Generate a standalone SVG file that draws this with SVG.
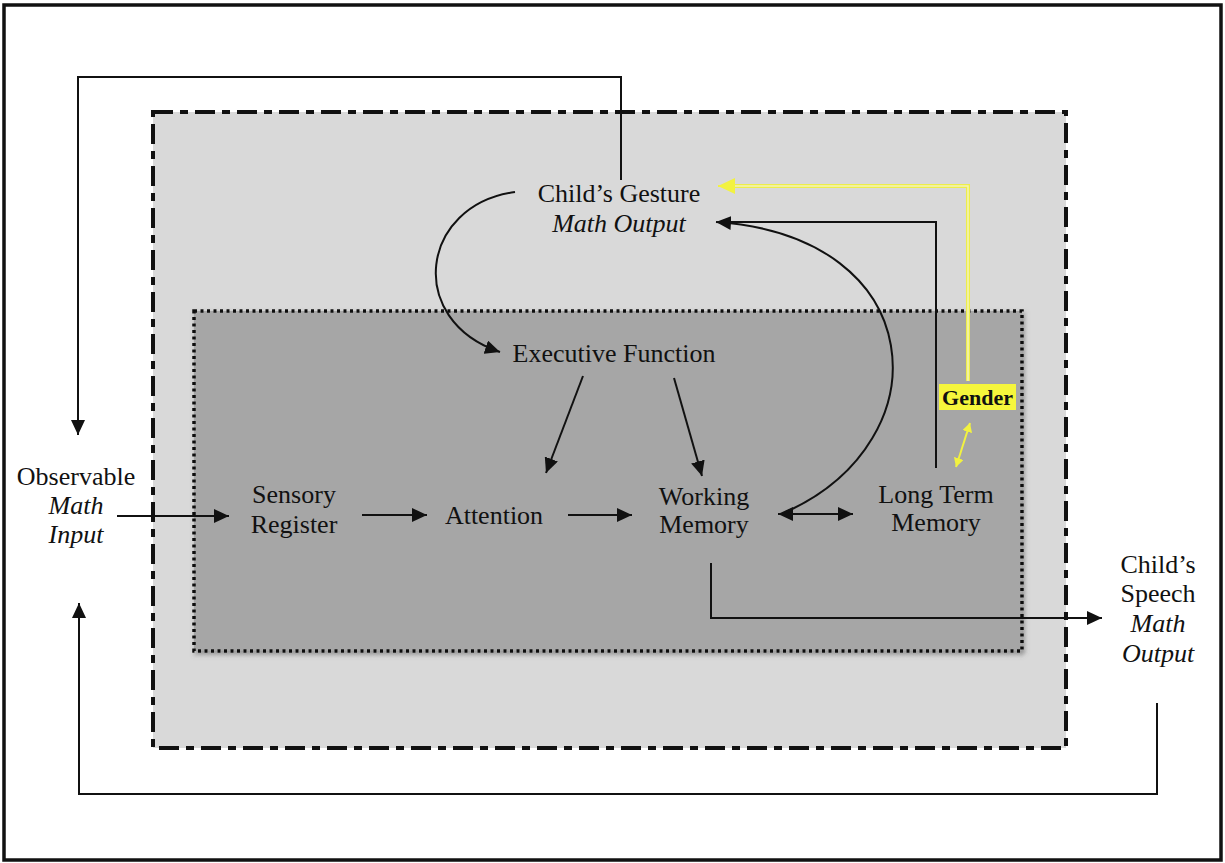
<svg xmlns="http://www.w3.org/2000/svg" width="1225" height="863" viewBox="0 0 1225 863">
  <style>
    .lbl { font-family: "Liberation Serif", "Times New Roman", serif; font-size: 26px; fill: #111; text-anchor: middle; }
    .it { font-style: italic; }
    .ln { fill: none; stroke: #111; stroke-width: 2; }
    .arr { marker-end: url(#ah); }
  </style>
  <defs>
    <marker id="ah" markerUnits="userSpaceOnUse" markerWidth="16" markerHeight="14" refX="15" refY="7" orient="auto-start-reverse">
      <path d="M0,0 L15,7 L0,14 Z" fill="#111"/>
    </marker>
    <marker id="ahY" markerUnits="userSpaceOnUse" markerWidth="18" markerHeight="16" refX="17" refY="8" orient="auto-start-reverse">
      <path d="M0,0 L17,8 L0,16 Z" fill="#f2f240"/>
    </marker>
    <marker id="ahYs" markerUnits="userSpaceOnUse" markerWidth="10" markerHeight="10" refX="9" refY="5" orient="auto-start-reverse">
      <path d="M0,0 L9,5 L0,10 Z" fill="#f2f240"/>
    </marker>
    <filter id="shadow" x="-5%" y="-5%" width="110%" height="115%">
      <feDropShadow dx="2" dy="3" stdDeviation="2" flood-color="#555" flood-opacity="0.5"/>
    </filter>
  </defs>

  <rect width="1225" height="863" fill="#fff"/>
  <!-- outer frame -->
  <rect x="4" y="5" width="1217" height="855" fill="none" stroke="#111" stroke-width="3.5"/>

  <!-- child system (dash-dot) -->
  <g id="child-system">
    <rect x="153" y="112" width="913" height="636" fill="#d9d9d9" stroke="#111" stroke-width="4" stroke-dasharray="20 7 8 7"/>
  </g>

  <!-- cognitive system (dotted) -->
  <g id="cognitive-system">
    <rect x="194" y="311" width="828" height="340" fill="#a6a6a6" stroke="#111" stroke-width="3.5" stroke-dasharray="3 3.5" filter="url(#shadow)"/>
  </g>

  <!-- connectors -->
  <g id="connectors">
    <!-- gesture loop back to observable input -->
    <path class="ln arr" d="M621,180 V77 H78 V435"/>
    <!-- speech loop back to observable input -->
    <path class="ln arr" d="M1157,703 V794 H79 V603"/>
    <!-- input to sensory register -->
    <path class="ln arr" d="M117,516 H229"/>
    <path class="ln arr" d="M362,515 H427"/>
    <path class="ln arr" d="M568,515 H632"/>
    <!-- working memory <-> long term memory -->
    <path class="ln arr" d="M778,514 H853" style="marker-start:url(#ah)"/>
    <!-- gesture <-> working memory curve -->
    <path class="ln" d="M716,222 C930,236 945,440 786,512" style="marker-start:url(#ah)"/>
    <!-- long term memory to gesture -->
    <path class="ln" d="M936,468 V222 H722"/>
    <!-- gesture to executive function -->
    <path class="ln arr" d="M515,192 C420,205 405,320 500,352"/>
    <!-- executive function to attention / working memory -->
    <path class="ln arr" d="M583,376 L546,473"/>
    <path class="ln arr" d="M674,378 L702,476"/>
    <!-- working memory to speech -->
    <path class="ln arr" d="M711,563 V618 H1102"/>
    <!-- gender moderation (yellow double line) -->
    <path d="M968,381 V186 H730" fill="none" stroke="#eded4a" stroke-width="4"/>
    <path d="M968,381 V186 H730" fill="none" stroke="#f3f3b8" stroke-width="1.5"/>
    <path d="M734,186 H718" fill="none" stroke="#f2f240" stroke-width="2" marker-end="url(#ahY)"/>
    <path d="M970,423 L956,467" fill="none" stroke="#f2f240" stroke-width="2" marker-start="url(#ahYs)" marker-end="url(#ahYs)"/>
  </g>

  <g id="observable-input">
    <text class="lbl" x="76" y="485">Observable</text>
    <text class="lbl it" x="76" y="514">Math</text>
    <text class="lbl it" x="76" y="543">Input</text>
  </g>

  <g id="childs-gesture">
    <text class="lbl" x="619" y="202">Child’s Gesture</text>
    <text class="lbl it" x="619" y="232">Math Output</text>
  </g>

  <g id="executive-function">
    <text class="lbl" x="614" y="362">Executive Function</text>
  </g>

  <g id="sensory-register">
    <text class="lbl" x="294" y="503">Sensory</text>
    <text class="lbl" x="294" y="533">Register</text>
  </g>

  <g id="attention">
    <text class="lbl" x="494" y="524">Attention</text>
  </g>

  <g id="working-memory">
    <text class="lbl" x="704" y="505">Working</text>
    <text class="lbl" x="704" y="533">Memory</text>
  </g>

  <g id="long-term-memory">
    <text class="lbl" x="936" y="503">Long Term</text>
    <text class="lbl" x="936" y="531">Memory</text>
  </g>

  <g id="gender">
    <rect x="939" y="384" width="77" height="26" fill="#f6f63c"/>
    <text x="977.5" y="405" font-family="Liberation Serif, 'Times New Roman', serif" font-size="22" font-weight="bold" fill="#111" text-anchor="middle">Gender</text>
  </g>

  <g id="childs-speech">
    <text class="lbl" x="1158" y="573">Child’s</text>
    <text class="lbl" x="1158" y="602">Speech</text>
    <text class="lbl it" x="1158" y="632">Math</text>
    <text class="lbl it" x="1158" y="662">Output</text>
  </g>
</svg>
